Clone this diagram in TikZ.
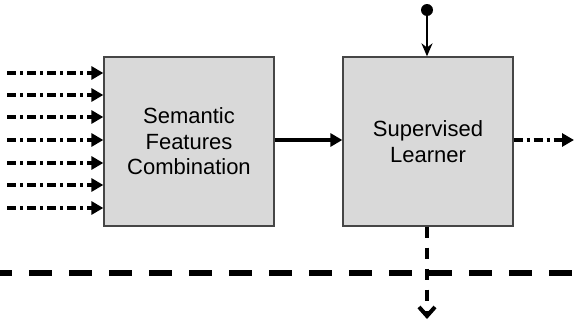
\documentclass[tikz,border=0pt]{standalone}
\usepackage{fontspec}
\setmainfont{Liberation Sans}
\usetikzlibrary{arrows.meta}
\tikzset{
  block/.style={draw={rgb,255:red,70;green,70;blue,70},line width=1.3,fill={rgb,255:red,217;green,217;blue,217},minimum width=170,minimum height=169,align=center,font=\fontsize{22}{25.5}\selectfont,inner sep=0},
  dashdot/.style={line width=3.2,dash pattern={on 9 off 4 on 3 off 4},-{Triangle[length=12,width=13]}},
}
\begin{document}
\begin{tikzpicture}[x=1pt,y=1pt,yscale=-1,xscale=1]
\useasboundingbox (0,0) rectangle (574,324);
% Shape: Rectangle
\node [block] (combine) at (189,141.5) {Semantic\\Features\\Combination};
% Shape: Rectangle
\node [block] (learner) at (428,141.5) {Supervised\\Learner};
% Inputs
\foreach \y [count=\i] in {73,95,117,140,163,185,208} {
  \coordinate (in\i) at (7,\y);
  \draw [dashdot] (in\i) -- (combine.west |- in\i);
}
% Straight Lines
\draw [line width=3.5,-{Triangle[length=12,width=13]}] (combine.east |- 0,140) -- (learner.west |- 0,140);
% Shape: Circle
\coordinate (pin) at (427,10);
\fill (pin) circle (6);
\draw [line width=2.5,-{Stealth[length=13,width=11]}] (pin) -- (learner.north -| pin);
% Output
\coordinate (out) at (574,140);
\draw [dashdot] (learner.east |- out) -- (out);
% Dashed Lines
\coordinate (left) at (0,273);
\coordinate (right) at (574,273);
\draw [line width=6,dash pattern={on 23 off 17},dash phase=11] (left) -- (right);
\coordinate (down) at (427,319);
\draw [line width=4,dash pattern={on 11 off 10},-{Straight Barb[length=9,width=16]}] (learner.south -| down) -- (down);
\end{tikzpicture}
\end{document}
